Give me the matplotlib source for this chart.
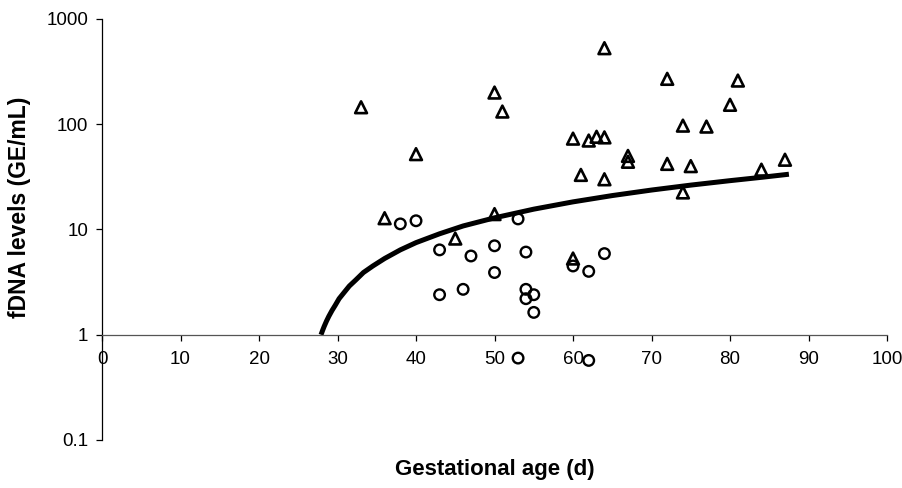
import numpy as np
import matplotlib
matplotlib.use('Agg')
import matplotlib.pyplot as plt
from matplotlib.ticker import FixedLocator, FixedFormatter, NullLocator

plt.rcParams['font.family'] = ['Liberation Sans', 'DejaVu Sans']

# triangles (upper group)
tri_x = [33, 36, 40, 45, 50, 50, 51, 60, 60, 61, 62, 63, 64, 64, 64,
         67, 67, 72, 72, 74, 74, 75, 77, 80, 81, 84, 87]
tri_y = [145, 12.8, 52, 8.2, 200, 14.0, 132, 73, 5.3, 33, 70, 76, 528, 75, 30,
         50, 44, 270, 42, 97, 22.5, 40, 95, 153, 260, 37, 46]

# circles (lower group)
circ_x = [38, 40, 43, 43, 46, 47, 50, 50, 53, 53, 54, 54, 54, 55, 55,
          60, 62, 62, 64]
circ_y = [11.3, 12.1, 6.4, 2.4, 2.7, 5.6, 7.0, 3.9, 12.6, 0.60, 6.1, 2.7, 2.2, 2.4, 1.63,
          4.5, 4.0, 0.57, 5.9]

# fitted curve
curve_x = [27.9, 28.1, 28.3, 28.6, 28.9, 29.3, 29.7, 30.2, 30.8, 31.5, 32.3, 33.3,
           34.5, 36, 38, 40, 43, 46, 50, 55, 60, 65, 70, 75, 80, 84, 87.5]
curve_y = [1.0, 1.1, 1.2, 1.35, 1.5, 1.7, 1.9, 2.2, 2.5, 2.9, 3.3, 3.9,
           4.5, 5.3, 6.4, 7.5, 9.1, 10.8, 12.9, 15.6, 18.3, 21.0, 23.7, 26.4, 29.1, 31.3, 33.5]

fig = plt.figure(figsize=(9.02, 4.88), dpi=100)
ax = fig.add_axes([0.1131, 0.0984, 0.8703, 0.8627])

ax.plot(curve_x, curve_y, '-', color='black', lw=3.6, solid_capstyle='butt',
        solid_joinstyle='round', zorder=2)
ax.scatter(tri_x, tri_y, marker='^', s=72, facecolors='none', edgecolors='black',
           linewidths=1.9, zorder=3)
ax.scatter(circ_x, circ_y, marker='o', s=58, facecolors='none', edgecolors='black',
           linewidths=1.7, zorder=3)

ax.set_yscale('log')
ax.set_ylim(0.1, 1000)
ax.set_xlim(0, 100)

ax.spines['top'].set_visible(False)
ax.spines['right'].set_visible(False)
ax.spines['bottom'].set_position(('data', 1))
ax.spines['bottom'].set_color('#555555')
ax.spines['bottom'].set_linewidth(0.9)
ax.spines['left'].set_linewidth(0.9)

ax.yaxis.set_major_locator(FixedLocator([0.1, 1, 10, 100, 1000]))
ax.yaxis.set_major_formatter(FixedFormatter(['0.1', '1', '10', '100', '1000']))
ax.yaxis.set_minor_locator(NullLocator())
ax.set_xticks(np.arange(0, 101, 10))
ax.tick_params(axis='both', direction='out', length=4, width=0.9, labelsize=13.5, pad=6)
ax.tick_params(axis='x', pad=8)

fig.text(0.5485, 0.037, 'Gestational age (d)', ha='center', va='center',
         fontsize=16, fontweight='bold')
fig.text(0.022, 0.576, 'fDNA levels (GE/mL)', ha='center', va='center',
         rotation=90, fontsize=16.5, fontweight='bold')

fig.savefig('out.png', dpi=100)
